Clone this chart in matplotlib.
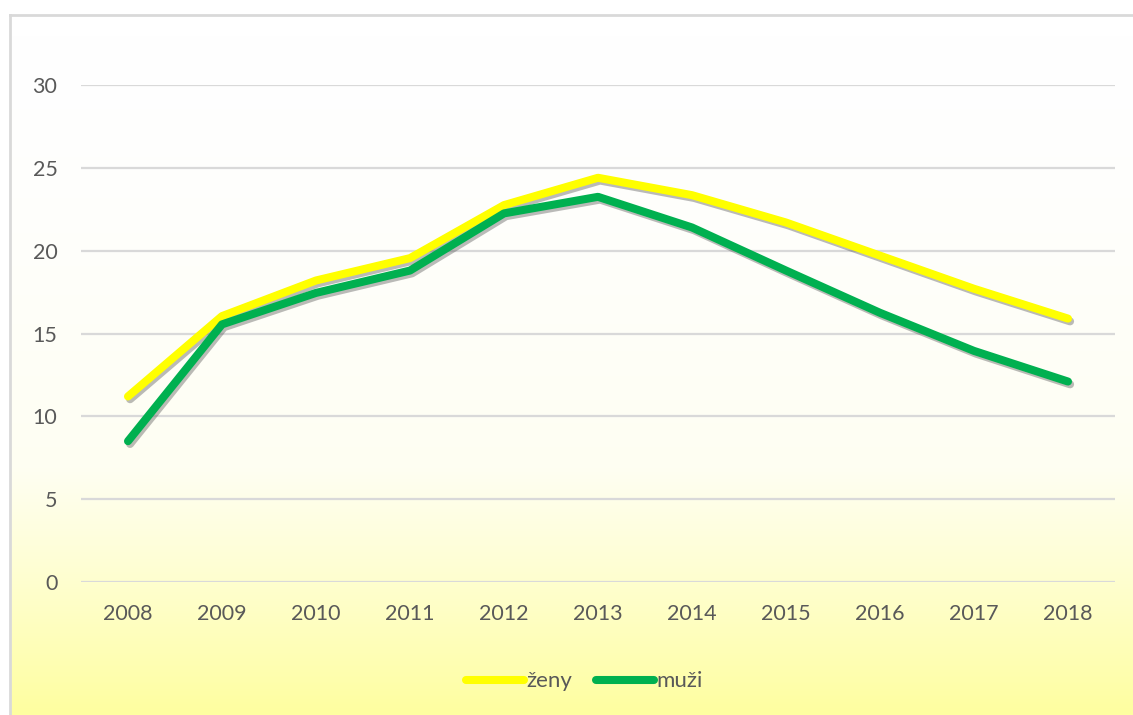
import matplotlib.pyplot as plt
import matplotlib.patheffects as pe
import numpy as np
from matplotlib.colors import LinearSegmentedColormap

years = ['2008', '2009', '2010', '2011', '2012', '2013', '2014', '2015', '2016', '2017', '2018']
zeny = [11.2, 16.05, 18.2, 19.55, 22.75, 24.4, 23.35, 21.7, 19.7, 17.7, 15.9]
muzi = [8.5, 15.55, 17.45, 18.8, 22.25, 23.25, 21.4, 18.8, 16.25, 13.95, 12.1]

plt.rcParams['font.family'] = ['Lato', 'DejaVu Sans']

W, H = 1133, 715
fig = plt.figure(figsize=(W / 100, H / 100), dpi=100)
fig.patch.set_facecolor('white')

# background panel with vertical gradient
bg = fig.add_axes([10 / W, 0, 1 - 10 / W, 1 - 15 / H])
grad = np.linspace(0, 1, 256).reshape(-1, 1) ** 1.6
cmap = LinearSegmentedColormap.from_list('bg', ['#FFFFFF', '#FEFEF2', '#FFFFA0'])
bg.imshow(grad, aspect='auto', cmap=cmap, extent=[0, 1, 0, 1], origin='upper')
bg.set_xlim(0, 1)
bg.set_ylim(0, 1)
bg.set_xticks([])
bg.set_yticks([])
for s in bg.spines.values():
    s.set_color('#D9D9D9')
    s.set_linewidth(2)
bg.spines['right'].set_visible(False)
bg.spines['bottom'].set_visible(False)

ax = fig.add_axes([81 / W, 133 / H, 1034 / W, 497 / H])
ax.patch.set_alpha(0)
x = np.arange(len(years))

shadow = [pe.SimpleLineShadow(offset=(1.5, -2), shadow_color='#555555', alpha=0.4), pe.Normal()]
ax.plot(x, zeny, color='#FFFF00', lw=5.8, solid_capstyle='round', solid_joinstyle='round',
        label='ženy', path_effects=shadow, clip_on=False, zorder=3)
ax.plot(x, muzi, color='#00B050', lw=5.8, solid_capstyle='round', solid_joinstyle='round',
        label='muži', path_effects=shadow, clip_on=False, zorder=4)

ax.set_xlim(-0.5, len(years) - 0.5)
ax.set_ylim(0, 30)
ax.set_yticks(range(0, 31, 5))
ax.set_xticks(x)
ax.set_xticklabels(years)
ax.grid(axis='y', color='#D9D9D9', lw=1.6)
ax.set_axisbelow(True)
for s in ax.spines.values():
    s.set_visible(False)
ax.tick_params(length=0, labelsize=15.5, colors='#595959', pad=16)
ax.tick_params(axis='y', pad=17)

leg = ax.legend(loc='center', bbox_to_anchor=(0.487, -0.2), ncol=2, frameon=False,
                fontsize=16, handlelength=2.6, handletextpad=0.12, columnspacing=1.05)
for t in leg.get_texts():
    t.set_color('#595959')
for l in leg.get_lines():
    l.set_path_effects([])

fig.savefig('out.png', dpi=100)
